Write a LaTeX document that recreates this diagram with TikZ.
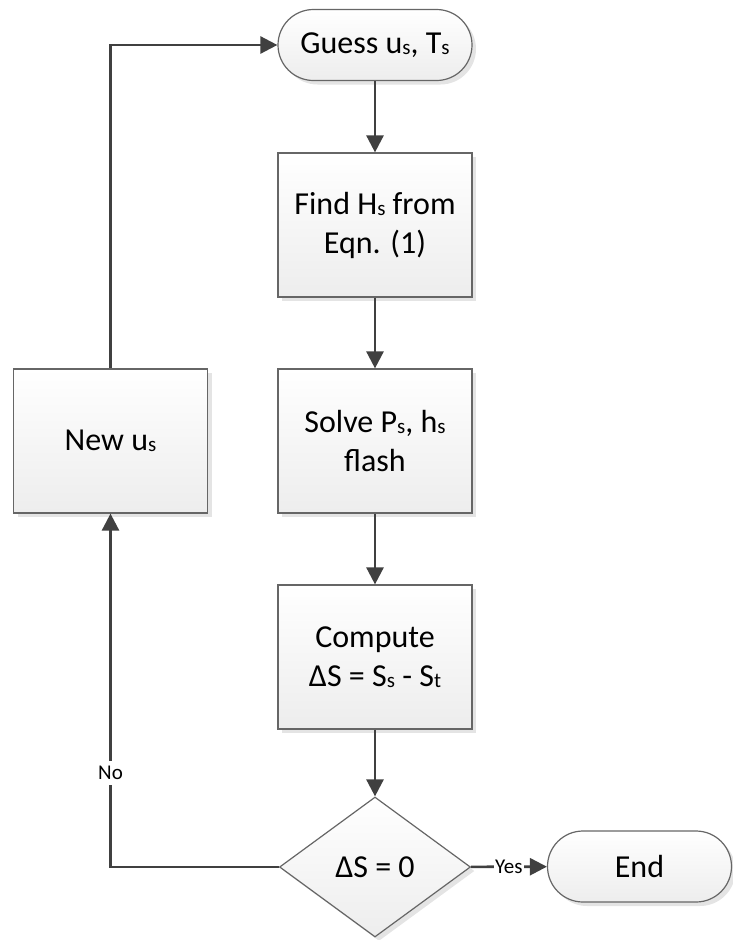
\documentclass[tikz,border=0pt]{standalone}
\usepackage{fontspec}
\setmainfont{Carlito}
\usetikzlibrary{arrows.meta,shapes.geometric,shadows}

\definecolor{boxline}{HTML}{666666}
\definecolor{linecol}{HTML}{404040}
\definecolor{boxfill}{HTML}{EDEDED}
\definecolor{shadowgray}{HTML}{E4E4E4}
\newcommand{\lowsub}[1]{\raisebox{-1pt}{\fontsize{21}{21}\selectfont #1}}

\begin{document}
\begin{tikzpicture}[x=1pt,y=1pt,
  shape base/.style={draw=boxline, line width=1.2pt, top color=white, bottom color=boxfill,
    drop shadow={shadow xshift=4pt, shadow yshift=-4pt, fill=shadowgray, opacity=1},
    inner sep=0pt, align=center, font=\fontsize{32}{39}\selectfont},
  box/.style={shape base, rectangle, minimum width=194pt, minimum height=144pt},
  terminal/.style={shape base, rectangle, rounded corners=35.5pt, minimum height=71pt},
  decision/.style={shape base, diamond, aspect=1.36, minimum width=191pt, minimum height=140pt},
  conn/.style={draw=linecol, line width=2.6pt, -{Triangle[length=17pt,width=17pt]}},
  lbl/.style={fill=white, inner xsep=1pt, inner ysep=5pt, font=\fontsize{21}{21}\selectfont}]
\useasboundingbox (0,0) rectangle (732,-940);
% main column
\node[terminal, minimum width=194pt] (start) at (375,-45) {Guess u\lowsub{s}, T\lowsub{s}};
\node[box] (find) at (375,-225) {Find H\lowsub{s} from\\Eqn. (1)};
\node[box] (solve) at (375,-441) {Solve P\lowsub{s}, h\lowsub{s}\\flash};
\node[box] (compute) at (375,-657) {Compute\\ΔS = S\lowsub{s} - S\lowsub{t}};
\node[decision] (check) at (375,-867) {ΔS = 0};
\node[terminal, minimum width=184pt] (finish) at (639.5,-866.5) {End};
% loop back
\node[box] (newu) at (110.5,-441) {New u\lowsub{s}};
\draw[conn] (start) -- (find);
\draw[conn] (find) -- (solve);
\draw[conn] (solve) -- (compute);
\draw[conn] (compute) -- (check);
\draw[conn] (check) -- node[lbl] {Yes} (finish);
\draw[conn] (check.west) -| node[lbl, pos=0.633] {No} (newu.south);
\draw[conn] (newu.north) |- (start.west);
\end{tikzpicture}
\end{document}
